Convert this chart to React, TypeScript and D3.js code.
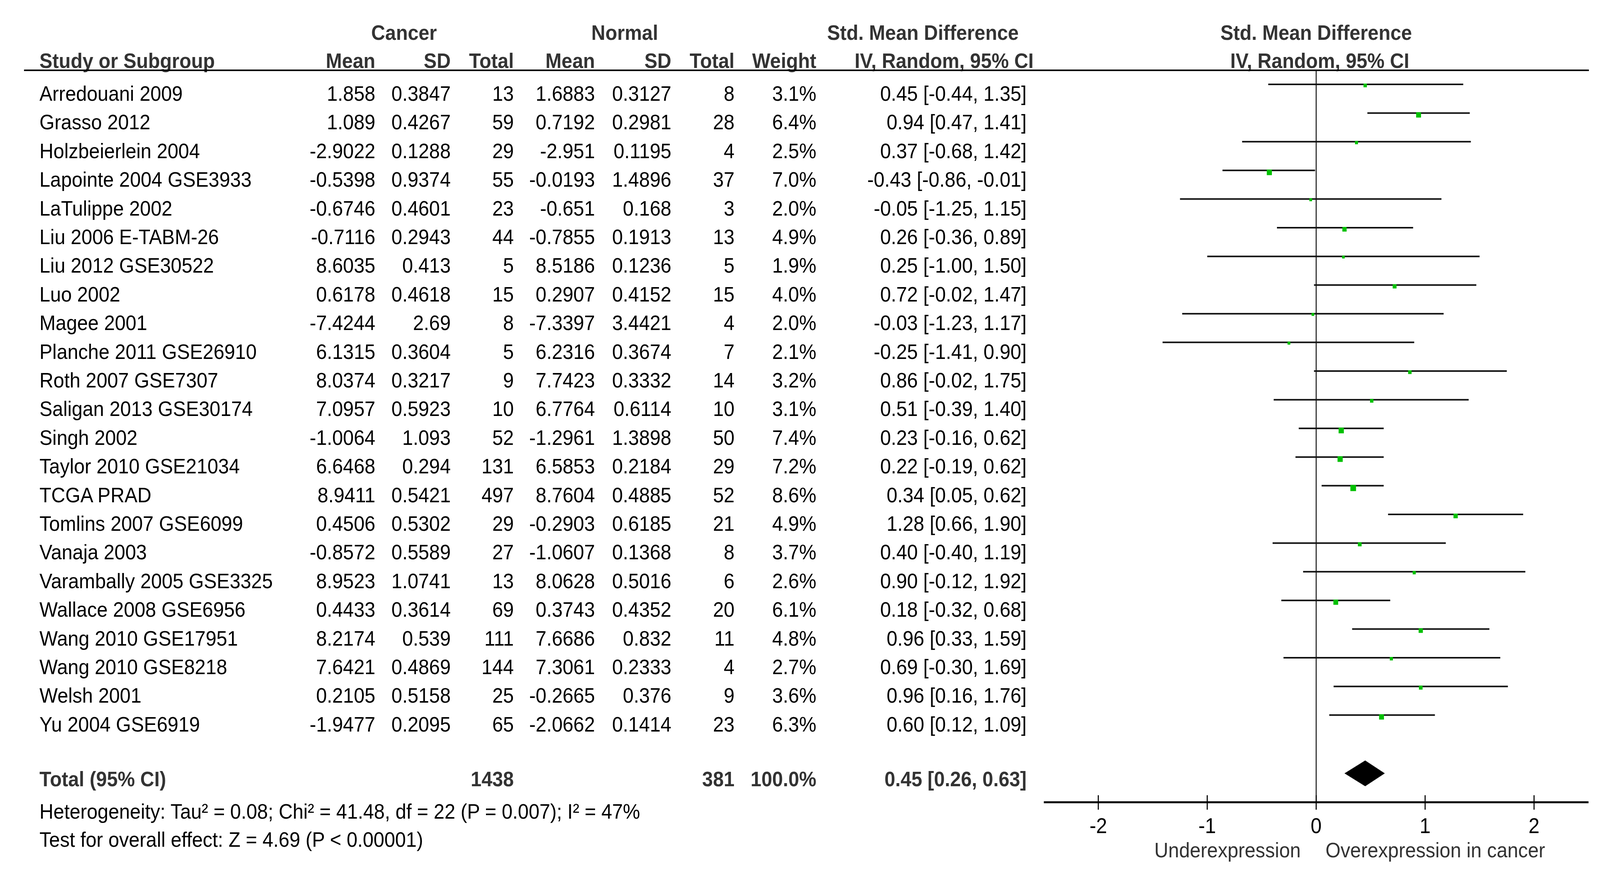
import React from "react";
import * as d3 from "d3";

const studies = [
  "Arredouani 2009", "Grasso 2012", "Holzbeierlein 2004", "Lapointe 2004 GSE3933", "LaTulippe 2002",
  "Liu 2006 E-TABM-26", "Liu 2012 GSE30522", "Luo 2002", "Magee 2001", "Planche 2011 GSE26910",
  "Roth 2007 GSE7307", "Saligan 2013 GSE30174", "Singh 2002", "Taylor 2010 GSE21034", "TCGA PRAD",
  "Tomlins 2007 GSE6099", "Vanaja 2003", "Varambally 2005 GSE3325", "Wallace 2008 GSE6956",
  "Wang 2010 GSE17951", "Wang 2010 GSE8218", "Welsh 2001", "Yu 2004 GSE6919",
];
const cancerMean = [1.858, 1.089, -2.9022, -0.5398, -0.6746, -0.7116, 8.6035, 0.6178, -7.4244, 6.1315, 8.0374, 7.0957, -1.0064, 6.6468, 8.9411, 0.4506, -0.8572, 8.9523, 0.4433, 8.2174, 7.6421, 0.2105, -1.9477];
const cancerSD = [0.3847, 0.4267, 0.1288, 0.9374, 0.4601, 0.2943, 0.413, 0.4618, 2.69, 0.3604, 0.3217, 0.5923, 1.093, 0.294, 0.5421, 0.5302, 0.5589, 1.0741, 0.3614, 0.539, 0.4869, 0.5158, 0.2095];
const cancerTotal = [13, 59, 29, 55, 23, 44, 5, 15, 8, 5, 9, 10, 52, 131, 497, 29, 27, 13, 69, 111, 144, 25, 65];
const normalMean = [1.6883, 0.7192, -2.951, -0.0193, -0.651, -0.7855, 8.5186, 0.2907, -7.3397, 6.2316, 7.7423, 6.7764, -1.2961, 6.5853, 8.7604, -0.2903, -1.0607, 8.0628, 0.3743, 7.6686, 7.3061, -0.2665, -2.0662];
const normalSD = [0.3127, 0.2981, 0.1195, 1.4896, 0.168, 0.1913, 0.1236, 0.4152, 3.4421, 0.3674, 0.3332, 0.6114, 1.3898, 0.2184, 0.4885, 0.6185, 0.1368, 0.5016, 0.4352, 0.832, 0.2333, 0.376, 0.1414];
const normalTotal = [8, 28, 4, 37, 3, 13, 5, 15, 4, 7, 14, 10, 50, 29, 52, 21, 8, 6, 20, 11, 4, 9, 23];
const weights = [3.1, 6.4, 2.5, 7.0, 2.0, 4.9, 1.9, 4.0, 2.0, 2.1, 3.2, 3.1, 7.4, 7.2, 8.6, 4.9, 3.7, 2.6, 6.1, 4.8, 2.7, 3.6, 6.3];
const smd = [0.45, 0.94, 0.37, -0.43, -0.05, 0.26, 0.25, 0.72, -0.03, -0.25, 0.86, 0.51, 0.23, 0.22, 0.34, 1.28, 0.40, 0.90, 0.18, 0.96, 0.69, 0.96, 0.60];
const ciLow = [-0.44, 0.47, -0.68, -0.86, -1.25, -0.36, -1.00, -0.02, -1.23, -1.41, -0.02, -0.39, -0.16, -0.19, 0.05, 0.66, -0.40, -0.12, -0.32, 0.33, -0.30, 0.16, 0.12];
const ciHigh = [1.35, 1.41, 1.42, -0.01, 1.15, 0.89, 1.50, 1.47, 1.17, 0.90, 1.75, 1.40, 0.62, 0.62, 0.62, 1.90, 1.19, 1.92, 0.68, 1.59, 1.69, 1.76, 1.09];

const totalCancer = 1438;
const totalNormal = 381;
const totalWeight = "100.0%";
const pooled = { est: 0.45, lo: 0.26, hi: 0.63 };
const heterogeneityText = "Heterogeneity: Tau² = 0.08; Chi² = 41.48, df = 22 (P = 0.007); I² = 47%";
const overallText = "Test for overall effect: Z = 4.69 (P < 0.00001)";
const axisTicks = [-2, -1, 0, 1, 2];
const axisDomain = [-2.5, 2.5];
const leftLabel = "Underexpression";
const rightLabel = "Overexpression in cancer";

const W = 4459;
const H = 2230;
const FONT = "'Liberation Sans', Arial, Helvetica, sans-serif";
const FS = 54;

const fmtCI = (e: number, l: number, h: number) => `${e.toFixed(2)} [${l.toFixed(2)}, ${h.toFixed(2)}]`;

export default function App() {
  React.useEffect(() => {
    document.body.style.margin = "0";
    document.body.style.overflow = "hidden";
    document.documentElement.style.overflow = "hidden";
  }, []);

  const x = d3.scaleLinear().domain(axisDomain).range([2909, 4427]);
  const rowY = d3.scaleLinear().domain([0, studies.length - 1]).range([258, 258 + 73.4 * (studies.length - 1)]);
  const totalBase = 2013;
  const axisY = 2054;
  const headerLineY = 180;
  const sq = d3.scaleSqrt().domain([0, 10]).range([0, 17]);

  const cols = {
    cMean: 1046, cSD: 1256, cTot: 1432, nMean: 1658, nSD: 1871, nTot: 2047, weight: 2275, ci: 2861,
  };
  const headColor = "#333";

  return (
    <svg
      viewBox={`0 0 ${W} ${H}`}
      preserveAspectRatio="none"
      style={{ position: "absolute", left: 0, top: 0, width: "100vw", height: "100vh", display: "block", background: "#fff" }}
      fontFamily={FONT}
      fontSize={FS}
    >
      <rect x={0} y={0} width={W} height={H} fill="#fff" />
      {/* Headers */}
      <g fontWeight="bold" fill={headColor}>
        <text x={1126} y={102} textAnchor="middle">Cancer</text>
        <text x={1741} y={102} textAnchor="middle">Normal</text>
        <text x={2572} y={102} textAnchor="middle">Std. Mean Difference</text>
        <text x={x(0)} y={102} textAnchor="middle">Std. Mean Difference</text>
        <text x={110} y={174}>Study or Subgroup</text>
        <text x={cols.cMean} y={174} textAnchor="end">Mean</text>
        <text x={cols.cSD} y={174} textAnchor="end">SD</text>
        <text x={cols.cTot} y={174} textAnchor="end">Total</text>
        <text x={cols.nMean} y={174} textAnchor="end">Mean</text>
        <text x={cols.nSD} y={174} textAnchor="end">SD</text>
        <text x={cols.nTot} y={174} textAnchor="end">Total</text>
        <text x={cols.weight} y={174} textAnchor="end">Weight</text>
        <text x={2631} y={174} textAnchor="middle">IV, Random, 95% CI</text>
        <text x={x(0) + 10} y={174} textAnchor="middle">IV, Random, 95% CI</text>
      </g>
      <line x1={67} x2={4428} y1={headerLineY} y2={headerLineY} stroke="#000" strokeWidth={4} />

      {/* zero line */}
      <line x1={x(0)} x2={x(0)} y1={headerLineY} y2={axisY} stroke="#000" strokeWidth={2.5} />

      {/* study rows */}
      {studies.map((s, i) => {
        const y = rowY(i);
        const ly = y - 42;
        const size = sq(weights[i]);
        return (
          <g key={s} fill="#000">
            <text x={110} y={y}>{s}</text>
            <text x={cols.cMean} y={y} textAnchor="end">{String(cancerMean[i])}</text>
            <text x={cols.cSD} y={y} textAnchor="end">{String(cancerSD[i])}</text>
            <text x={cols.cTot} y={y} textAnchor="end">{cancerTotal[i]}</text>
            <text x={cols.nMean} y={y} textAnchor="end">{String(normalMean[i])}</text>
            <text x={cols.nSD} y={y} textAnchor="end">{String(normalSD[i])}</text>
            <text x={cols.nTot} y={y} textAnchor="end">{normalTotal[i]}</text>
            <text x={cols.weight} y={y} textAnchor="end">{weights[i].toFixed(1)}%</text>
            <text x={cols.ci} y={y} textAnchor="end">{fmtCI(smd[i], ciLow[i], ciHigh[i])}</text>
            <line x1={x(ciLow[i])} x2={x(ciHigh[i])} y1={ly} y2={ly} stroke="#111" strokeWidth={4} />
            <rect x={x(smd[i]) - size / 2} y={ly - 2} width={size} height={size} fill="#00c000" />
          </g>
        );
      })}

      {/* total row */}
      <g fontWeight="bold" fill={headColor}>
        <text x={110} y={totalBase}>Total (95% CI)</text>
        <text x={cols.cTot} y={totalBase} textAnchor="end">{totalCancer}</text>
        <text x={cols.nTot} y={totalBase} textAnchor="end">{totalNormal}</text>
        <text x={cols.weight} y={totalBase} textAnchor="end">{totalWeight}</text>
        <text x={cols.ci} y={totalBase} textAnchor="end">{fmtCI(pooled.est, pooled.lo, pooled.hi)}</text>
      </g>
      <path
        d={`M${x(pooled.lo)},${totalBase - 33} L${x(pooled.est)},${totalBase - 66} L${x(pooled.hi)},${totalBase - 33} L${x(pooled.est)},${totalBase} Z`}
        fill="#000"
      />
      <text x={110} y={2096} fill="#000">{heterogeneityText}</text>
      <text x={110} y={2168} fill="#000">{overallText}</text>

      {/* axis */}
      <line x1={x(axisDomain[0])} x2={x(axisDomain[1])} y1={axisY} y2={axisY} stroke="#000" strokeWidth={5} />
      {axisTicks.map((t) => (
        <g key={t}>
          <line x1={x(t)} x2={x(t)} y1={axisY - 18} y2={axisY + 19} stroke="#000" strokeWidth={3} />
          <text x={x(t)} y={2133} textAnchor="middle" fontSize={55} fill="#000">{String(t)}</text>
        </g>
      ))}
      <text x={x(0) - 43} y={2195} textAnchor="end" fill="#333">{leftLabel}</text>
      <text x={x(0) + 26} y={2195} fill="#333">{rightLabel}</text>
    </svg>
  );
}
